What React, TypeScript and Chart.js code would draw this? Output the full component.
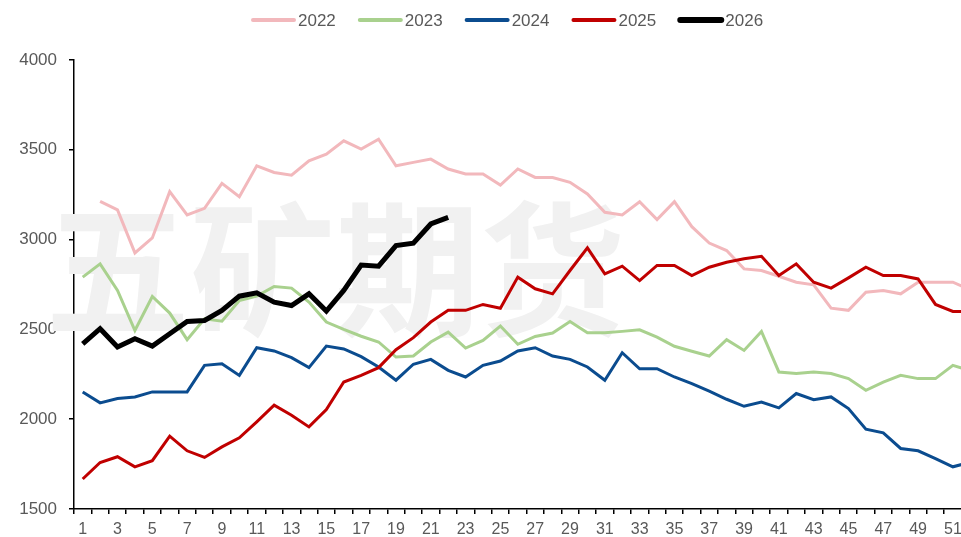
import React, { useEffect, useRef } from 'react';
import { Chart, registerables } from 'chart.js';

Chart.register(...registerables);

const weeks = [
  '1', '2', '3', '4', '5', '6', '7', '8', '9', '10', '11', '12', '13',
  '14', '15', '16', '17', '18', '19', '20', '21', '22', '23', '24', '25', '26',
  '27', '28', '29', '30', '31', '32', '33', '34', '35', '36', '37', '38', '39',
  '40', '41', '42', '43', '44', '45', '46', '47', '48', '49', '50', '51', '52',
];

const s2022 = [
  null, 3213, 3165, 2926, 3009, 3267, 3137, 3174, 3313, 3239, 3411, 3374, 3359,
  3439, 3476, 3550, 3504, 3559, 3411, 3430, 3448, 3393, 3365, 3365, 3304, 3393,
  3346, 3346, 3319, 3254, 3152, 3137, 3211, 3111, 3211, 3072, 2981, 2939, 2837,
  2828, 2796, 2763, 2748, 2618, 2606, 2707, 2717, 2698, 2763, 2763, 2763, 2720,
];
const s2023 = [
  2791, 2865, 2717, 2494, 2683, 2591, 2443, 2559, 2546, 2661, 2685, 2739, 2730,
  2652, 2541, 2500, 2462, 2430, 2346, 2352, 2430, 2485, 2396, 2439, 2519, 2417,
  2461, 2480, 2544, 2481, 2481, 2489, 2498, 2457, 2406, 2378, 2352, 2443, 2383,
  2489, 2263, 2254, 2263, 2254, 2226, 2161, 2207, 2244, 2226, 2226, 2300, 2270,
];
const s2024 = [
  2152, 2091, 2115, 2124, 2152, 2152, 2152, 2300, 2309, 2244, 2398, 2380, 2343,
  2287, 2407, 2391, 2348, 2291, 2217, 2306, 2333, 2272, 2235, 2300, 2324, 2380,
  2398, 2352, 2333, 2291, 2217, 2370, 2281, 2281, 2235, 2198, 2156, 2111, 2072,
  2096, 2063, 2143, 2109, 2124, 2059, 1944, 1924, 1837, 1824, 1781, 1735, 1760,
];
const s2025 = [
  1667, 1759, 1791, 1735, 1769, 1906, 1824, 1787, 1846, 1896, 1985, 2078, 2022,
  1957, 2054, 2207, 2244, 2287, 2387, 2454, 2541, 2606, 2606, 2639, 2618, 2791,
  2726, 2698, 2828, 2954, 2809, 2852, 2772, 2856, 2856, 2800, 2846, 2874, 2893,
  2907, 2800, 2865, 2763, 2730, 2787, 2846, 2800, 2800, 2781, 2639, 2600, 2600,
];
const s2026 = [
  2420, 2504, 2402, 2448, 2407, 2476, 2544, 2550, 2606, 2685, 2704, 2652, 2633,
  2698, 2602, 2717, 2858, 2852, 2967, 2980, 3087, 3124,
];

const seriesNames = ['2022', '2023', '2024', '2025', '2026'];
const seriesColors = ['#F2B8BC', '#A9D18E', '#0B4C8F', '#C00000', '#000000'];
const seriesWidths = [3, 3, 3, 3, 5];
const yTickMin = 1500;
const yTickMax = 4000;
const yTickStep = 500;
const watermarkText = '五矿期货';

const FONT = '"Liberation Sans", Arial, sans-serif';

const watermarkPlugin = {
  id: 'watermark',
  beforeDatasetsDraw(chart: any) {
    const ctx = chart.ctx;
    ctx.save();
    ctx.font = 'bold 145px "Noto Sans CJK SC", sans-serif';
    ctx.fillStyle = '#f1f1f1';
    ctx.textAlign = 'left';
    ctx.textBaseline = 'middle';
    ctx.fillText(watermarkText, 45, 270);
    ctx.restore();
  },
};

const legendPlugin = {
  id: 'lineLegend',
  afterDraw(chart: any) {
    const ctx = chart.ctx;
    ctx.save();
    ctx.font = '17px ' + FONT;
    ctx.textBaseline = 'middle';
    ctx.textAlign = 'left';
    let x = 251;
    const y = 20;
    chart.data.datasets.forEach((ds: any, i: number) => {
      ctx.strokeStyle = ds.borderColor;
      ctx.lineWidth = i === 4 ? 6 : 4;
      ctx.lineCap = 'round';
      ctx.beginPath();
      ctx.moveTo(x + 2, y);
      ctx.lineTo(x + 43, y);
      ctx.stroke();
      ctx.fillStyle = '#595959';
      ctx.fillText(ds.label, x + 47, y + 1);
      x += 47 + ctx.measureText(ds.label).width + 22;
    });
    ctx.restore();
  },
};

export default function App() {
  const ref = useRef<HTMLCanvasElement | null>(null);

  useEffect(() => {
    if (!ref.current) return;
    const all = [s2022, s2023, s2024, s2025, s2026];
    const chart = new Chart(ref.current, {
      type: 'line',
      data: {
        labels: weeks,
        datasets: all.map((d, i) => ({
          label: seriesNames[i],
          data: d,
          borderColor: seriesColors[i],
          backgroundColor: seriesColors[i],
          borderWidth: seriesWidths[i],
          pointRadius: 0,
          pointHoverRadius: 0,
          tension: 0,
          fill: false,
          spanGaps: false,
          order: 4 - i,
          borderJoinStyle: 'miter' as const,
        })),
      },
      options: {
        responsive: false,
        animation: false,
        layout: { padding: { top: 60, left: 0, right: 11, bottom: 0 } },
        plugins: {
          legend: { display: false },
          tooltip: { enabled: false },
          title: { display: false },
        },
        scales: {
          x: {
            type: 'category',
            offset: true,
            grid: {
              display: true,
              drawOnChartArea: false,
              drawTicks: true,
              tickLength: 5,
              color: '#000',
              lineWidth: 1.5,
              offset: true,
            },
            border: { display: true, color: '#000', width: 1.5 },
            ticks: {
              autoSkip: false,
              maxRotation: 0,
              minRotation: 0,
              padding: 6,
              color: '#595959',
              font: { size: 16, family: FONT },
              callback: function (this: any, value: any, index: number) {
                return index % 2 === 0 ? this.getLabelForValue(value) : '';
              },
            },
            afterFit(scale: any) {
              scale.height = 28;
            },
          },
          y: {
            min: yTickMin,
            max: yTickMax,
            grid: {
              display: true,
              drawOnChartArea: false,
              drawTicks: true,
              tickLength: 5,
              color: '#000',
              lineWidth: 1.5,
            },
            border: { display: true, color: '#000', width: 1.5 },
            ticks: {
              stepSize: yTickStep,
              padding: 12,
              color: '#595959',
              font: { size: 17, family: FONT },
              callback: (value: any) => String(value),
            },
            afterFit(scale: any) {
              scale.width = 74;
            },
          },
        },
      },
      plugins: [watermarkPlugin, legendPlugin],
    });
    return () => chart.destroy();
  }, []);

  return (
    <div
      style={{
        position: 'fixed',
        left: 0,
        top: 0,
        width: 961,
        height: 537,
        overflow: 'hidden',
        background: '#fff',
      }}
    >
      <canvas ref={ref} width={990} height={537} style={{ display: 'block' }} />
    </div>
  );
}
